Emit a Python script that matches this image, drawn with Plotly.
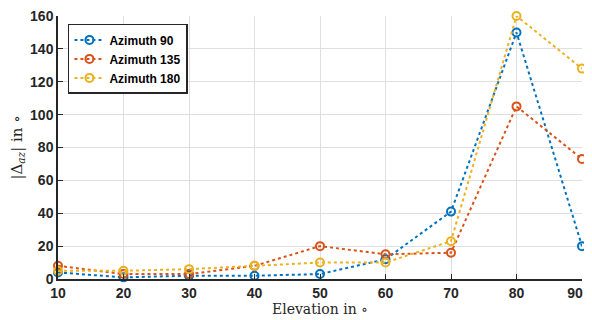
import plotly.graph_objects as go

elevation = [10, 20, 30, 40, 50, 60, 70, 80, 90]
x_tick_labels = ["10", "20", "30", "40", "50", "60", "70", "80", "90\u2003"]
az90 = [4, 1, 2, 2, 3, 12, 41, 150, 20]
az135 = [8, 3, 3, 8, 20, 15, 16, 105, 73]
az180 = [5, 5, 6, 8, 10, 10, 23, 160, 128]
names = ["Azimuth 90", "Azimuth 135", "Azimuth 180"]
colors = ["#0072BD", "#D95319", "#EDB120"]

fig = go.Figure()
for name, ys, c in zip(names, [az90, az135, az180], colors):
    fig.add_trace(go.Scatter(
        x=elevation, y=ys, name=name, mode="lines+markers",
        line=dict(color=c, width=2, dash="dot"),
        marker=dict(symbol="circle-open", size=8, color=c, line=dict(width=2, color=c)),
        cliponaxis=False,
    ))

tickfont = dict(family="Liberation Sans, Arial", size=14, color="#262626", weight="bold")
fig.update_layout(
    width=584, height=310,
    margin=dict(l=50, r=10, t=8, b=39),
    paper_bgcolor="white", plot_bgcolor="white",
    font=dict(family="Liberation Sans, Arial", color="#262626"),
    legend=dict(
        x=0.019, y=0.97, xanchor="left", yanchor="top",
        bgcolor="white", bordercolor="#262626", borderwidth=1.5,
        font=dict(family="Liberation Sans, Arial", size=12, color="#000000", weight="bold"),
        tracegroupgap=0, itemwidth=30,
    ),
    xaxis=dict(
        range=[10, 90], tickvals=elevation, ticktext=x_tick_labels, ticks="inside", ticklen=5,
        tickcolor="#262626", showline=True, linecolor="#262626", linewidth=1.5,
        showgrid=True, gridcolor="#DFDFDF", gridwidth=1, zeroline=False,
        tickfont=tickfont, automargin=False, ticklabeloverflow="allow",
        title=dict(text="Elevation in ∘", font=dict(family="DejaVu Serif, Liberation Serif", size=14, color="#262626"), standoff=4),
    ),
    yaxis=dict(
        range=[0, 160], tickvals=[0, 20, 40, 60, 80, 100, 120, 140, 160], ticks="inside", ticklen=5,
        tickcolor="#262626", showline=True, linecolor="#262626", linewidth=1.5,
        showgrid=True, gridcolor="#DFDFDF", gridwidth=1, zeroline=False,
        tickfont=tickfont, automargin=False, ticklabeloverflow="allow",
        title=dict(text="|Δ<sub><i>az</i></sub>| in ∘", font=dict(family="DejaVu Serif, Liberation Serif", size=15, color="#262626"), standoff=14),
    ),
    showlegend=True,
)
fig.write_html("out.html")
